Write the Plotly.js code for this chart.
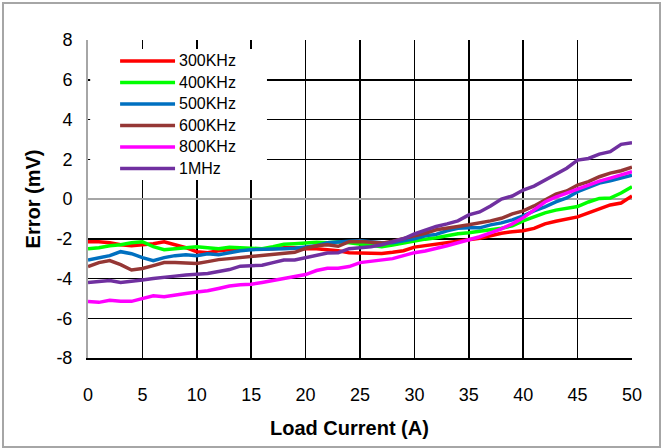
<!DOCTYPE html>
<html>
<head>
<meta charset="utf-8">
<script src="https://cdn.plot.ly/plotly-3.0.1.min.js"></script>
<style>
  html, body { margin: 0; padding: 0; background: #fff; }
  #wrap { position: relative; width: 663px; height: 448px; overflow: hidden; }
  #chart { position: absolute; left: 0; top: 0; width: 663px; height: 448px; }
  #frame { position: absolute; left: 2px; top: 2px; width: 655px; height: 442px;
           border: 2px solid #a6a6a6; pointer-events: none; }
</style>
</head>
<body>
<div id="wrap">
  <div id="chart"></div>
  <div id="frame"></div>
</div>
<script>
// Load current (A)
var current = [0,1,2,3,4,5,6,7,8,9,10,11,12,13,14,15,16,17,18,19,20,
  21,22,23,24,25,26,27,28,29,30,31,32,33,34,35,36,37,38,39,40,
  41,42,43,44,45,46,47,48,49,50];

// Output error (mV) per switching frequency
var err300k = [-2.15,-2.15,-2.2,-2.3,-2.35,-2.3,-2.25,-2.15,-2.3,-2.45,
  -2.65,-2.7,-2.6,-2.55,-2.5,-2.5,-2.5,-2.5,-2.45,-2.45,
  -2.5,-2.5,-2.55,-2.6,-2.7,-2.72,-2.76,-2.74,-2.68,-2.6,
  -2.42,-2.35,-2.3,-2.22,-2.12,-2.05,-1.98,-1.85,-1.72,-1.65,
  -1.6,-1.48,-1.25,-1.12,-1.0,-0.9,-0.7,-0.5,-0.3,-0.2,0.15];
var err400k = [-2.5,-2.45,-2.35,-2.3,-2.2,-2.15,-2.4,-2.55,-2.5,-2.45,
  -2.4,-2.45,-2.5,-2.43,-2.45,-2.5,-2.5,-2.4,-2.28,-2.25,
  -2.2,-2.18,-2.2,-2.15,-2.2,-2.28,-2.35,-2.4,-2.32,-2.22,
  -2.1,-2.02,-1.95,-1.85,-1.75,-1.7,-1.64,-1.55,-1.47,-1.35,
  -1.1,-0.9,-0.7,-0.56,-0.48,-0.38,-0.15,0.03,0.05,0.3,0.62];
var err500k = [-3.07,-2.95,-2.85,-2.65,-2.75,-2.95,-3.1,-2.95,-2.85,-2.8,
  -2.85,-2.75,-2.8,-2.7,-2.6,-2.55,-2.52,-2.5,-2.5,-2.48,
  -2.4,-2.35,-2.2,-2.15,-2.12,-2.1,-2.15,-2.2,-2.2,-2.1,
  -2.0,-1.85,-1.78,-1.6,-1.47,-1.45,-1.45,-1.3,-1.2,-1.05,
  -0.85,-0.6,-0.4,-0.15,0.05,0.37,0.6,0.8,0.92,1.05,1.2];
var err600k = [-3.4,-3.2,-3.1,-3.3,-3.57,-3.5,-3.35,-3.2,-3.2,-3.22,
  -3.25,-3.15,-3.05,-3.0,-2.95,-2.9,-2.85,-2.78,-2.72,-2.68,
  -2.48,-2.35,-2.3,-2.38,-2.15,-2.14,-2.18,-2.22,-2.12,-2.0,
  -1.85,-1.72,-1.55,-1.45,-1.38,-1.3,-1.22,-1.1,-0.97,-0.75,
  -0.6,-0.35,-0.05,0.24,0.4,0.7,0.87,1.12,1.3,1.42,1.6];
var err800k = [-5.16,-5.2,-5.1,-5.15,-5.15,-5.0,-4.87,-4.92,-4.82,-4.75,
  -4.68,-4.62,-4.5,-4.38,-4.32,-4.29,-4.2,-4.1,-4.0,-3.94,
  -3.8,-3.6,-3.48,-3.48,-3.4,-3.2,-3.12,-3.05,-3.0,-2.85,
  -2.7,-2.62,-2.5,-2.35,-2.2,-2.05,-1.9,-1.7,-1.5,-1.25,
  -0.95,-0.55,-0.15,0.1,0.3,0.5,0.7,0.9,1.05,1.2,1.37];
var err1m = [-4.2,-4.15,-4.1,-4.2,-4.15,-4.07,-4.0,-3.92,-3.88,-3.82,
  -3.78,-3.75,-3.65,-3.55,-3.38,-3.35,-3.33,-3.2,-3.07,-3.07,
  -2.95,-2.8,-2.72,-2.7,-2.5,-2.45,-2.4,-2.3,-2.15,-2.0,
  -1.76,-1.55,-1.38,-1.25,-1.1,-0.8,-0.65,-0.35,0.0,0.15,
  0.45,0.65,0.95,1.25,1.55,1.96,2.04,2.26,2.38,2.75,2.83];

var seriesNames = ['300KHz','400KHz','500KHz','600KHz','800KHz','1MHz'];
var seriesColors = ['#ff0000','#00ff00','#0070c0','#953735','#ff00ff','#7030a0'];
var seriesValues = [err300k, err400k, err500k, err600k, err800k, err1m];

// Axis tick values and labels (plain hyphen for negatives)
var xTickVals = [0,5,10,15,20,25,30,35,40,45,50];
var xTickText = ['0','5','10','15','20','25','30','35','40','45','50'];
var yTickVals = [-8,-6,-4,-2,0,2,4,6,8];
var yTickText = ['-8','-6','-4','-2','0','2','4','6','8'];

var traces = seriesValues.map(function (vals, k) {
  return {
    type: 'scatter', mode: 'lines',
    x: current, y: vals,
    name: seriesNames[k],
    line: {color: seriesColors[k], width: 3.5},
    showlegend: false
  };
});

// Key panel in the upper-left corner of the plot: white backing, sample lines, labels
var keyTop = 0.934, keyStep = 0.0676;
var shapes = [{
  type: 'rect', xref: 'paper', yref: 'paper',
  x0: 0.004, x1: 0.329, y0: 0.56, y1: 0.972,
  fillcolor: '#ffffff', line: {width: 0}, layer: 'above'
}];
var annotations = [];
seriesNames.forEach(function (name, k) {
  var yy = keyTop - k * keyStep;
  shapes.push({
    type: 'line', xref: 'paper', yref: 'paper',
    x0: 0.059, x1: 0.16, y0: yy, y1: yy,
    line: {color: seriesColors[k], width: 3.5}, layer: 'above'
  });
  annotations.push({
    xref: 'paper', yref: 'paper', x: 0.164, y: yy,
    xanchor: 'left', yanchor: 'middle', showarrow: false,
    text: name, font: {size: 16, color: '#000000'}
  });
});

// x-axis title, set a little left of the plot centre
annotations.push({
  xref: 'paper', yref: 'paper', x: 0.4816, y: -0.22,
  xanchor: 'center', yanchor: 'middle', showarrow: false,
  text: 'Load Current (A)', font: {size: 20, weight: 'bold', color: '#000000'}
});

var layout = {
  width: 663, height: 448,
  margin: {l: 88, r: 31, t: 40, b: 90, pad: 0},
  paper_bgcolor: '#ffffff', plot_bgcolor: '#ffffff',
  font: {family: '"Liberation Sans", Arial, sans-serif', color: '#000000'},
  showlegend: false,
  xaxis: {
    range: [0, 50], tickmode: 'array', tickvals: xTickVals, ticktext: xTickText,
    showgrid: true, gridcolor: '#000000', gridwidth: 1.5,
    zeroline: false, showline: true, linecolor: '#000000', linewidth: 1.5,
    ticks: '', tickfont: {size: 18}, ticklabelstandoff: 20,
    fixedrange: true
  },
  yaxis: {
    range: [-8, 8], tickmode: 'array', tickvals: yTickVals, ticktext: yTickText,
    showgrid: true, gridcolor: '#000000', gridwidth: 1.5,
    zeroline: true, zerolinecolor: '#a6a6a6', zerolinewidth: 2,
    showline: true, linecolor: '#a6a6a6', linewidth: 2,
    ticks: '', tickfont: {size: 18}, ticklabelstandoff: 10,
    title: {text: 'Error (mV)', font: {size: 20, weight: 'bold'}, standoff: 10},
    fixedrange: true
  },
  shapes: shapes,
  annotations: annotations
};

Plotly.newPlot('chart', traces, layout, {displayModeBar: false, staticPlot: true});
</script>
</body>
</html>
